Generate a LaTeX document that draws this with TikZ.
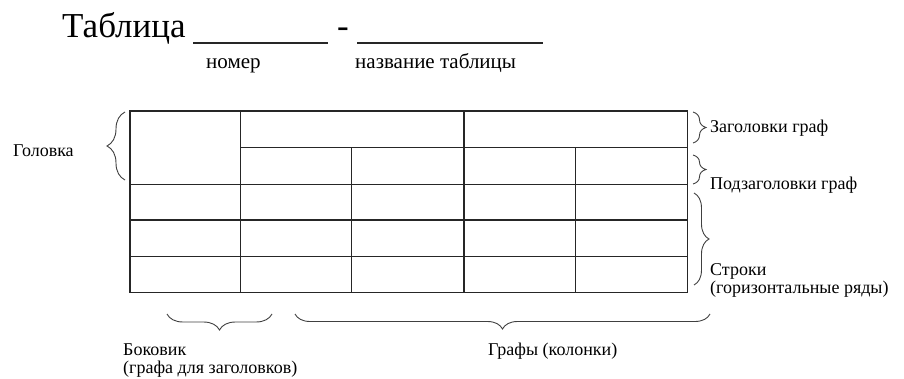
\documentclass[tikz,border=0pt]{standalone}
\usepackage{fontspec}
\setmainfont{Liberation Serif}
\newfontfamily\tms{Liberation Serif}
\usetikzlibrary{decorations.pathreplacing}
\begin{document}
\begin{tikzpicture}[x=1pt,y=-1pt,
  gridline/.style={line width=1.5pt, draw=black!85},
  brc/.style={decorate, decoration={brace, amplitude=#1}, line width=0.9pt, draw=black!75},
  lbl/.style={anchor=base west, inner sep=0pt, align=left, font=\tms\fontsize{18}{15}\selectfont},
  sub/.style={anchor=base west, inner sep=0pt, font=\tms\fontsize{21}{24}\selectfont},
  ttl/.style={anchor=base west, inner sep=0pt, font=\tms\fontsize{35}{38}\selectfont},
  uline/.style={line width=1.3pt, draw=black!85}]
\useasboundingbox (0,0) rectangle (904,379);
% title
\node[ttl] (title) at (62,38) {Таблица};
\coordinate (u1a) at (193,43); \coordinate (u1b) at (328,43);
\coordinate (u2a) at (357,43); \coordinate (u2b) at (543,43);
\draw[uline] (u1a) -- (u1b);
\draw[uline] (u2a) -- (u2b);
\node[ttl, anchor=base] (dash) at (343,38) {-};
\node[sub] (nomer) at (206,69) {номер};
\node[sub] (nazv) at (355,69) {название таблицы};
% table
\def\xa{130}\def\xb{240.7}\def\xc{351.5}\def\xd{464}\def\xe{575.5}\def\xf{687.7}
\def\ya{111}\def\yb{147.7}\def\yc{184.3}\def\yd{220}\def\ye{256.7}\def\yf{292.3}
\draw[gridline] (\xa,\ya) rectangle (\xf,\yf);
\foreach \yy in {\yc,\yd,\ye} \draw[gridline] (\xa,\yy) -- (\xf,\yy);
\draw[gridline] (\xb,\yb) -- (\xf,\yb);
\foreach \xx in {\xb,\xd} \draw[gridline] (\xx,\ya) -- (\xx,\yf);
\foreach \xx in {\xc,\xe} \draw[gridline] (\xx,\yb) -- (\xx,\yf);
% braces
\coordinate (hb1) at (125,180); \coordinate (hb2) at (125,112);
\draw[brc=18pt] (hb1) -- (hb2);
\node[lbl] (golovka) at (13,157) {Головка};
\coordinate (zb1) at (693,112); \coordinate (zb2) at (693,143);
\draw[brc=13pt] (zb1) -- (zb2);
\node[lbl] (zag) at (710,133) {Заголовки граф};
\coordinate (pb1) at (693,155); \coordinate (pb2) at (693,184);
\draw[brc=13pt] (pb1) -- (pb2);
\node[lbl] (podzag) at (710,190) {Подзаголовки граф};
\coordinate (sb1) at (694,193); \coordinate (sb2) at (694,285);
\draw[brc=15pt] (sb1) -- (sb2);
\node[lbl] (stroki) at (710,293) {Строки\\(горизонтальные ряды)};
\coordinate (bb1) at (272,314); \coordinate (bb2) at (167,314);
\draw[brc=16pt] (bb1) -- (bb2);
\node[lbl, font=\tms\fontsize{18}{18}\selectfont] (bokovik) at (123,373) {Боковик\\(графа для заголовков)};
\coordinate (gb1) at (710,314); \coordinate (gb2) at (295,314);
\draw[brc=15pt] (gb1) -- (gb2);
\node[lbl] (grafy) at (488,355) {Графы (колонки)};
\end{tikzpicture}
\end{document}
